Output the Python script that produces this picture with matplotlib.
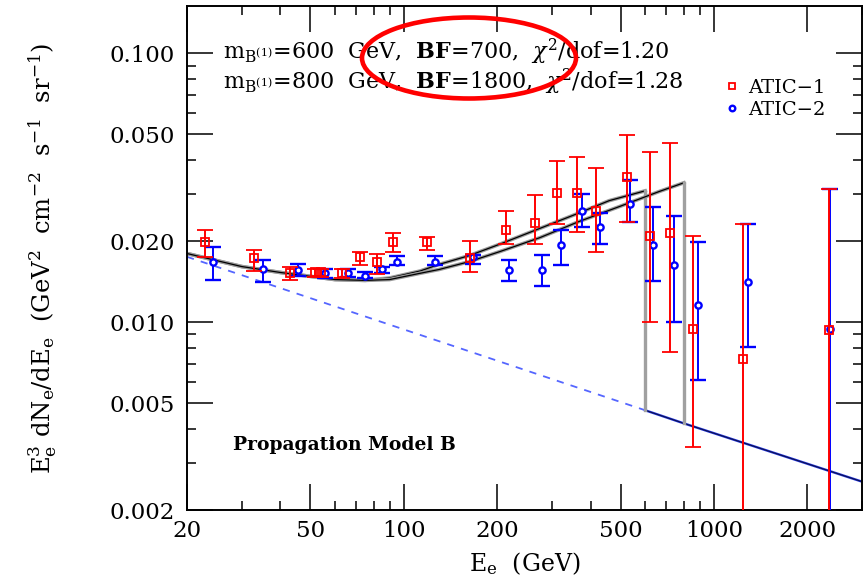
import numpy as np
import matplotlib.pyplot as plt
from matplotlib.patches import Ellipse
from matplotlib.lines import Line2D
from matplotlib.ticker import FixedLocator, NullFormatter

plt.rcParams['font.family'] = 'DejaVu Serif'
plt.rcParams['mathtext.fontset'] = 'dejavuserif'

# ATIC-1 data (red squares): energy, E^3 flux, upper / lower end of error bar
atic1_E = [22.9, 33.0, 43.0, 51.8, 54.1, 63.2, 72.2, 81.9, 92.2, 118.6, 164, 214,
           264, 312, 362, 417, 525, 622, 721, 855, 1240, 2344]
atic1_flux = [0.0198, 0.0173, 0.0152, 0.0153, 0.0153, 0.0152, 0.0174, 0.0167, 0.0198,
              0.0198, 0.0173, 0.0221, 0.0233, 0.0303, 0.0303, 0.0258, 0.0347, 0.0210,
              0.0215, 0.00942, 0.00730, 0.00935]
atic1_hi = [0.0221, 0.0186, 0.0160, 0.0158, 0.0158, 0.0158, 0.0183, 0.0180, 0.0214,
            0.0208, 0.0201, 0.0258, 0.0298, 0.0398, 0.0412, 0.0375, 0.0497, 0.0430,
            0.0464, 0.0210, 0.0231, 0.0313]
atic1_lo = [0.0174, 0.0155, 0.0144, 0.0147, 0.0147, 0.0146, 0.0163, 0.0151, 0.0183,
            0.0186, 0.0153, 0.0195, 0.0196, 0.0231, 0.0217, 0.0183, 0.0235, 0.0100,
            0.00774, 0.00344, 0.001, 0.001]

# ATIC-2 data (blue dots)
atic2_E = [24.3, 35.2, 45.6, 55.7, 66, 75, 85, 95, 126, 167, 219, 278, 322, 376, 430,
           537, 637, 743, 890, 1285, 2360]
atic2_flux = [0.0168, 0.0157, 0.0156, 0.0152, 0.0152, 0.0149, 0.0158, 0.0168, 0.0168,
              0.0174, 0.0156, 0.0156, 0.0193, 0.0260, 0.0225, 0.0276, 0.0193, 0.0163,
              0.01156, 0.0141, 0.0094]
atic2_hi = [0.0191, 0.0170, 0.0165, 0.0157, 0.0157, 0.0153, 0.0161, 0.0176, 0.0176,
            0.0177, 0.0170, 0.0177, 0.0221, 0.0300, 0.0255, 0.0338, 0.0269, 0.0249,
            0.0198, 0.0231, 0.0313]
atic2_lo = [0.0143, 0.0141, 0.0148, 0.0146, 0.0147, 0.0146, 0.0152, 0.0163, 0.0163,
            0.0165, 0.0142, 0.0136, 0.0163, 0.0225, 0.0196, 0.0235, 0.0142, 0.0100,
            0.0061, 0.00808, 0.001]

# background (propagation model B)
bg_E = [20, 600, 800, 3000]
bg_flux = [0.0175, 0.0047, 0.0042, 0.00255]

# background + KK signal, m=600 and m=800
m600_E = [20, 30, 40, 50, 60, 75, 90, 113, 130, 163, 204, 274, 368, 459, 600]
m600_flux = [0.0180, 0.0161, 0.0153, 0.0148, 0.0144, 0.0143, 0.0146, 0.0155, 0.0164,
             0.0177, 0.0195, 0.0223, 0.0255, 0.0283, 0.0308]
m800_E = [20, 30, 40, 50, 60, 75, 90, 113, 130, 163, 204, 274, 368, 495, 665, 800]
m800_flux = [0.0180, 0.0161, 0.0153, 0.0148, 0.0144, 0.0143, 0.0144, 0.0152, 0.0157,
             0.0168, 0.0183, 0.0206, 0.0237, 0.0269, 0.0306, 0.0330]

fig = plt.figure(figsize=(8.65, 5.85), dpi=100)
ax = fig.add_axes([187/865, 1 - 510/585, 675/865, 504/585])
ax.set_xscale('log')
ax.set_yscale('log')

# background: dashed below 600 GeV, solid above
ax.plot(bg_E[:2], bg_flux[:2], color='#5566ff', lw=1.3, ls=(0, (4, 4)), zorder=1)
ax.plot(bg_E[1:], bg_flux[1:], color='#2233dd', lw=1.7, zorder=1)
ax.plot(bg_E[1:], bg_flux[1:], color='black', lw=0.7, alpha=0.7, zorder=1)

# signal curves with vertical drop at the KK mass
for E, fl, i_bg in [(m600_E, m600_flux, 1), (m800_E, m800_flux, 2)]:
    ax.plot(E, fl, color='#9a9a9a', lw=2.6, zorder=2)
    ax.plot(E, fl, color='black', lw=0.9, zorder=2)
    ax.plot([E[-1], bg_E[i_bg]], [fl[-1], bg_flux[i_bg]], color='#a0a0a0', lw=2.4, zorder=2)

a2_err = [np.array(atic2_flux) - np.array(atic2_lo), np.array(atic2_hi) - np.array(atic2_flux)]
ax.errorbar(atic2_E, atic2_flux, yerr=a2_err, fmt='o', color='blue', ms=4.5,
            mfc='white', mec='blue', mew=1.7, elinewidth=1.4, capsize=6, capthick=1.4, zorder=3)
a1_err = [np.array(atic1_flux) - np.array(atic1_lo), np.array(atic1_hi) - np.array(atic1_flux)]
ax.errorbar(atic1_E, atic1_flux, yerr=a1_err, fmt='s', color='red', ms=5.5,
            mfc='none', mec='red', mew=1.3, elinewidth=1.4, capsize=6, capthick=1.4, zorder=4)

ax.set_xlim(20, 3000)
ax.set_ylim(0.002, 0.15)

xmaj = [20, 50, 100, 200, 500, 1000, 2000]
xmin = [30, 40, 60, 70, 80, 90, 300, 400, 600, 700, 800, 900, 3000]
ymaj = [0.002, 0.005, 0.01, 0.02, 0.05, 0.1]
ymin = [0.003, 0.004, 0.006, 0.007, 0.008, 0.009, 0.03, 0.04, 0.06, 0.07, 0.08, 0.09]
ax.xaxis.set_major_locator(FixedLocator(xmaj))
ax.xaxis.set_minor_locator(FixedLocator(xmin))
ax.yaxis.set_major_locator(FixedLocator(ymaj))
ax.yaxis.set_minor_locator(FixedLocator(ymin))
ax.set_xticklabels([str(v) for v in xmaj])
ax.set_yticklabels(['%.3f' % v for v in ymaj])
ax.xaxis.set_minor_formatter(NullFormatter())
ax.yaxis.set_minor_formatter(NullFormatter())
ax.tick_params(which='both', direction='in', top=True, right=True, width=1.1,
               labelsize=16.5, colors='black')
ax.tick_params(which='major', length=19)
ax.tick_params(which='minor', length=6.5)
ax.tick_params(axis='x', pad=7)
ax.tick_params(axis='y', pad=9)
for s in ax.spines.values():
    s.set_linewidth(1.4)

ax.set_xlabel(r'E$_\mathrm{e}$  (GeV)', fontsize=17, labelpad=6)
ax.set_ylabel(r'E$_\mathrm{e}^3$ dN$_\mathrm{e}$/dE$_\mathrm{e}$  (GeV$^2$  cm$^{-2}$  s$^{-1}$  sr$^{-1}$)',
              fontsize=17.5, labelpad=36)

ax.text(0.053, 0.909, r'm$_{\mathrm{B}^{(1)}}$=600  GeV,  $\mathbf{BF}$=700,  $\chi^2$/dof=1.20',
        transform=ax.transAxes, fontsize=16, va='center')
ax.text(0.053, 0.849, r'm$_{\mathrm{B}^{(1)}}$=800  GeV,  $\mathbf{BF}$=1800,  $\chi^2$/dof=1.28',
        transform=ax.transAxes, fontsize=16, va='center')
ax.text(0.068, 0.128, 'Propagation Model B', transform=ax.transAxes, fontsize=13.5,
        fontweight='bold', va='center')

handles = [Line2D([], [], ls='none', marker='s', ms=5, mfc='none', mec='red', mew=1.3),
           Line2D([], [], ls='none', marker='o', ms=4, mfc='white', mec='blue', mew=1.7)]
ax.legend(handles, ['ATIC\u22121', 'ATIC\u22122'], loc='upper left',
          bbox_to_anchor=(0.785, 0.875), frameon=False, fontsize=14,
          handlelength=0.6, handletextpad=0.5, labelspacing=0.2, borderpad=0)

# red highlight ellipse around the BF values
fig.patches.append(Ellipse((469/865, 1 - 58/585), 214/865, 81/585, transform=fig.transFigure,
                           fill=False, edgecolor='red', lw=3.3, zorder=10))

fig.savefig('out.png', dpi=100)
